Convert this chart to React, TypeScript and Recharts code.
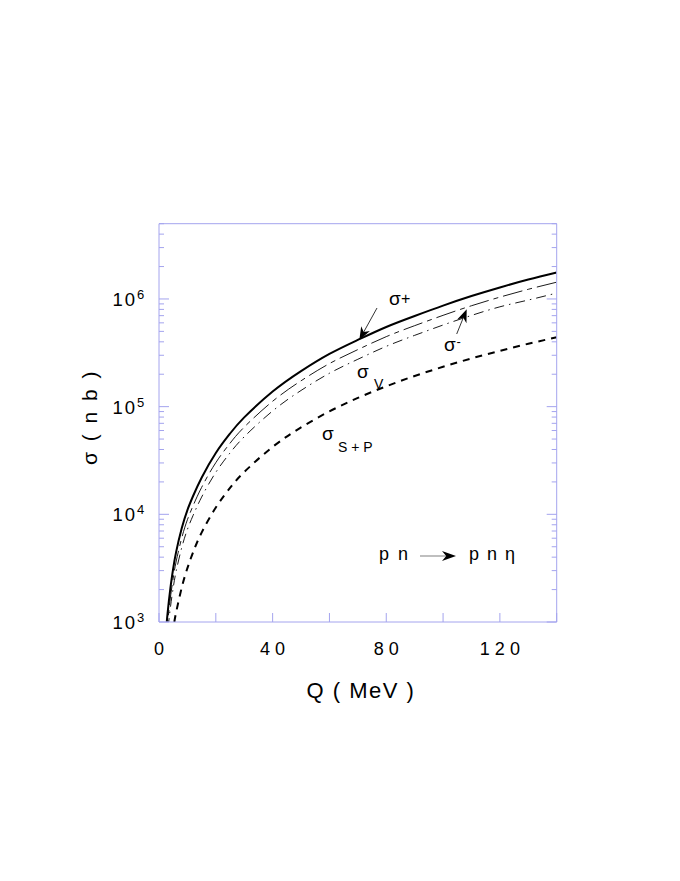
import { LineChart, Line, XAxis, YAxis } from 'recharts'

const FRAME = '#a4a4ee'
const FONT = '"Liberation Sans", Arial, Helvetica, sans-serif'

// Q in MeV, sigma in nb
const qPlus = [2.5, 3, 4, 5, 6, 8, 10, 12, 15, 20, 25, 30, 40, 50, 60, 70, 80, 90, 100, 110, 120, 130, 140]
const sigmaPlus = [839, 1189, 2051, 3141, 4436, 7413, 10960, 14790, 21880, 37150, 56230, 79430, 138000, 213800, 309000, 416900, 549500, 695000, 867000, 1064000, 1279000, 1514000, 1762000]

const qMinus = [2.5, 3, 4, 5, 6, 8, 10, 12, 15, 20, 25, 30, 40, 50, 60, 70, 80, 90, 100, 110, 120, 130, 140]
const sigmaMinus = [682, 966, 1667, 2553, 3606, 6026, 8913, 12020, 17780, 30200, 45710, 64570, 112200, 173800, 251200, 338800, 446700, 565000, 704700, 865000, 1040000, 1230000, 1432000]

const qV = [2.5, 3, 4, 5, 6, 8, 10, 12, 15, 20, 25, 30, 40, 50, 60, 70, 80, 90, 100, 110, 120, 130, 140]
const sigmaV = [555, 785, 1355, 2075, 2931, 4898, 7244, 9772, 14450, 24550, 37150, 52480, 91200, 141300, 204200, 275400, 363100, 459200, 572800, 703100, 845300, 977200, 1135000]

const qSP = [5.4, 6, 8, 10, 12, 15, 20, 25, 30, 40, 50, 60, 70, 80, 90, 100, 110, 120, 130, 140]
const sigmaSP = [1000, 1219, 2084, 3162, 4446, 6761, 11560, 17580, 24720, 42270, 64120, 90360, 120500, 154500, 192800, 234400, 280500, 329600, 383700, 440600]

const xTicks = [0, 20, 40, 60, 80, 100, 120, 140]
const xLabels = [0, 40, 80, 120]
const yTicks = [
  1000, 2000, 3000, 4000, 5000, 6000, 7000, 8000, 9000,
  10000, 20000, 30000, 40000, 50000, 60000, 70000, 80000, 90000,
  100000, 200000, 300000, 400000, 500000, 600000, 700000, 800000, 900000,
  1000000, 2000000, 3000000, 4000000, 5000000,
]
const yDecades = [1000, 10000, 100000, 1000000]

const rows = (q: number[], s: number[]) => q.map((v, i) => ({ q: v, s: s[i] }))

function BottomTick({ x, y, payload }: any) {
  const v = payload.value
  return (
    <g>
      <line x1={x} x2={x} y1={y} y2={y - 9} stroke={FRAME} />
      {xLabels.includes(v) && (
        <text x={x} y={y + 33} textAnchor="middle" fontSize={18} fontFamily={FONT} fill="#000">
          {String(v).split('').join(' ')}
        </text>
      )}
    </g>
  )
}

function TopTick({ x, y }: any) {
  return <line x1={x} x2={x} y1={y} y2={y + 9} stroke={FRAME} />
}

function LeftTick({ x, y, payload }: any) {
  const v = payload.value
  const major = yDecades.includes(v)
  return (
    <g>
      <line x1={x} x2={x + (major ? 10 : 5)} y1={y} y2={y} stroke={FRAME} />
      {major && (
        <text x={x - 46.5} y={y + 7} fontSize={18.5} fontFamily={FONT} fill="#000">
          <tspan letterSpacing={2}>10</tspan>
          <tspan dy={-7} fontSize={13}>
            {Math.round(Math.log10(v))}
          </tspan>
        </text>
      )}
    </g>
  )
}

function RightTick({ x, y, payload }: any) {
  const major = yDecades.includes(payload.value)
  return <line x1={x} x2={x - (major ? 10 : 5)} y1={y} y2={y} stroke={FRAME} />
}

function Arrow({ x1, y1, x2, y2, line = '#000', lw = 0.8, head = 13, w = 5 }: any) {
  const dx = x2 - x1
  const dy = y2 - y1
  const len = Math.hypot(dx, dy)
  const ux = dx / len
  const uy = dy / len
  const bx = x2 - ux * head
  const by = y2 - uy * head
  const nx = x2 - ux * head * 0.7
  const ny = y2 - uy * head * 0.7
  const pts = [
    [x2, y2],
    [bx - uy * w, by + ux * w],
    [nx, ny],
    [bx + uy * w, by - ux * w],
  ]
  return (
    <g>
      <line x1={x1} y1={y1} x2={nx} y2={ny} stroke={line} strokeWidth={lw} />
      <polygon points={pts.map((p) => p.join(',')).join(' ')} fill="#000" />
    </g>
  )
}

export default function App() {
  return (
    <div style={{ position: 'relative', left: -8, top: -8, width: 680, height: 881, fontFamily: FONT }}>
      <LineChart
        width={680}
        height={881}
        margin={{ top: 222.7, left: 158, right: 122.3, bottom: 258 }}
      >
        <XAxis
          xAxisId="b"
          dataKey="q"
          type="number"
          domain={[0, 140]}
          ticks={xTicks}
          interval={0}
          height={1}
          tickSize={0}
          tickMargin={0}
          axisLine={{ stroke: FRAME }}
          tick={<BottomTick />}
          allowDataOverflow
        />
        <XAxis
          xAxisId="t"
          orientation="top"
          type="number"
          domain={[0, 140]}
          ticks={xTicks}
          interval={0}
          height={1}
          tickSize={0}
          tickMargin={0}
          axisLine={{ stroke: FRAME }}
          tick={<TopTick />}
          allowDataOverflow
        />
        <YAxis
          yAxisId="l"
          scale="log"
          domain={[1000, 5000000]}
          ticks={yTicks}
          interval={0}
          width={1}
          tickSize={0}
          tickMargin={0}
          axisLine={{ stroke: FRAME }}
          tick={<LeftTick />}
          allowDataOverflow
        />
        <YAxis
          yAxisId="r"
          orientation="right"
          scale="log"
          domain={[1000, 5000000]}
          ticks={yTicks}
          interval={0}
          width={1}
          tickSize={0}
          tickMargin={0}
          axisLine={{ stroke: FRAME }}
          tick={<RightTick />}
          allowDataOverflow
        />
        <Line
          xAxisId="b"
          yAxisId="l"
          data={rows(qSP, sigmaSP)}
          dataKey="s"
          type="natural"
          stroke="#000"
          strokeWidth={2}
          strokeDasharray="7 6"
          dot={false}
          isAnimationActive={false}
        />
        <Line
          xAxisId="b"
          yAxisId="l"
          data={rows(qV, sigmaV)}
          dataKey="s"
          type="natural"
          stroke="#000"
          strokeWidth={0.9}
          strokeDasharray="10 5 1.5 5"
          dot={false}
          isAnimationActive={false}
        />
        <Line
          xAxisId="b"
          yAxisId="l"
          data={rows(qMinus, sigmaMinus)}
          dataKey="s"
          type="natural"
          stroke="#000"
          strokeWidth={0.9}
          strokeDasharray="20 5 5 5"
          dot={false}
          isAnimationActive={false}
        />
        <Line
          xAxisId="b"
          yAxisId="l"
          data={rows(qPlus, sigmaPlus)}
          dataKey="s"
          type="natural"
          stroke="#000"
          strokeWidth={2}
          dot={false}
          isAnimationActive={false}
        />
      </LineChart>

      <svg
        width={680}
        height={881}
        style={{ position: 'absolute', left: 0, top: 0, pointerEvents: 'none' }}
        fontFamily={FONT}
      >
        <text transform="translate(97,417) rotate(-90)" textAnchor="middle" fontSize={21} letterSpacing={2.5} fill="#000">
          σ ( n b )
        </text>
        <text x={361} y={698} textAnchor="middle" fontSize={22} letterSpacing={1.5} fill="#000">
          Q ( MeV )
        </text>

        <text x={389} y={305} fontSize={19} fill="#000">σ</text>
        <text x={401} y={304} fontSize={16} fill="#000">+</text>
        <Arrow x1={377} y1={308} x2={359.3} y2={340} />

        <text x={444} y={351} fontSize={19} fill="#000">σ</text>
        <text x={456.5} y={346} fontSize={13} fill="#000">-</text>
        <Arrow x1={456.7} y1={334} x2={466.7} y2={309.3} />

        <text x={357} y={378} fontSize={19} fill="#000">σ</text>
        <text x={374} y={389} fontSize={14} fill="#000">V</text>

        <text x={322} y={440} fontSize={19} fill="#000">σ</text>
        <text x={338} y={452} fontSize={14} fill="#000">S + P</text>

        <text x={379} y={560} fontSize={18} letterSpacing={2} fill="#000">p n</text>
        <Arrow x1={420} y1={556} x2={456} y2={556} line="#aaa" lw={1.5} head={14} w={5} />
        <text x={469} y={560} fontSize={18} letterSpacing={1.5} fill="#000">p n η</text>
      </svg>
    </div>
  )
}
